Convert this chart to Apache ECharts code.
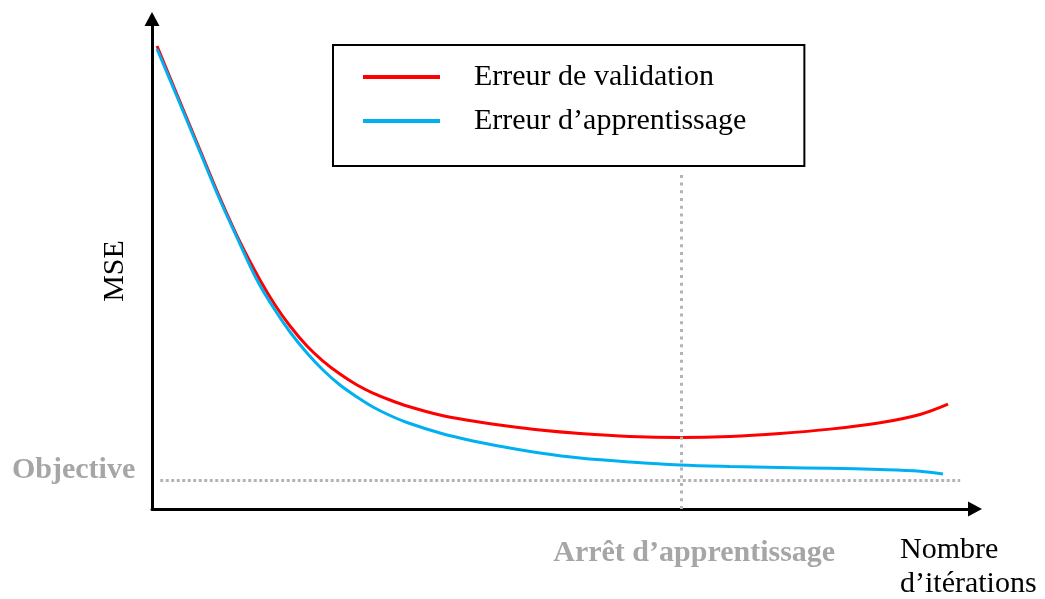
<!DOCTYPE html>
<html>
<head>
<meta charset="utf-8">
<script src="https://cdn.jsdelivr.net/npm/echarts@6/dist/echarts.min.js"></script>
<style>
  html, body { margin: 0; padding: 0; background: #fff; }
  #chart { width: 1045px; height: 599px; }
</style>
</head>
<body>
<div id="chart"></div>
<script>
// Validation error curve (iterations, MSE)
const valIter = [0.61, 3.16, 5.83, 8.26, 10.69, 13.12, 14.95, 16.77, 18.83, 20.78, 22.84, 24.91, 26.85, 28.92, 30.98, 34.99, 39.0, 43.13, 47.14, 52.0, 58.08, 64.16, 70.23, 76.31, 82.38, 88.46, 93.32, 96.72];
const valMse  = [94.49, 84.08, 73.27, 63.47, 54.49, 46.73, 41.63, 37.35, 33.27, 30.2, 27.55, 25.31, 23.67, 22.24, 21.02, 19.18, 17.96, 16.94, 16.12, 15.41, 14.8, 14.59, 14.8, 15.41, 16.3, 17.6, 19.3, 21.4];

// Training error curve (iterations, MSE)
const trainIter = [0.61, 3.16, 5.83, 8.26, 10.69, 12.76, 14.7, 16.77, 18.83, 20.78, 22.84, 24.91, 26.85, 28.92, 30.98, 34.99, 39.0, 43.13, 47.14, 52.0, 58.08, 64.16, 70.23, 76.31, 82.38, 88.46, 93.32, 96.11];
const trainMse  = [93.88, 83.67, 72.86, 63.06, 54.08, 46.73, 41.22, 36.12, 31.84, 28.37, 25.31, 22.86, 20.82, 19.08, 17.65, 15.51, 13.88, 12.55, 11.43, 10.41, 9.59, 8.98, 8.67, 8.47, 8.3, 8.05, 7.7, 7.14];

// Target MSE level and early-stopping point
const objectiveMse = 5.9;
const objectiveSpan = [1.0, 98.2];
const stopIter = 64.3;
const stopTop = 68.2;

const names = ['Erreur de validation', 'Erreur d\u2019apprentissage'];
const serif = 'Liberation Serif, Times New Roman, serif';
const grey = '#a6a6a6';

const pairs = (xs, ys) => xs.map((x, i) => [x, ys[i]]);

const chart = echarts.init(document.getElementById('chart'), null, { renderer: 'canvas' });

const axisBase = {
  type: 'value',
  min: 0,
  max: 100,
  splitLine: { show: false },
  axisTick: { show: false },
  axisLabel: { show: false },
  axisLine: {
    show: true,
    symbol: ['none', 'triangle'],
    symbolSize: [15, 14],
    lineStyle: { color: '#000', width: 3 }
  }
};

chart.setOption({
  animation: false,
  backgroundColor: '#fff',
  grid: { left: 152, right: 70, top: 19, bottom: 90, containLabel: false, outerBoundsMode: 'none' },
  xAxis: Object.assign({}, axisBase, {
    name: 'Nombre\nd\u2019it\u00e9rations',
    nameLocation: 'end',
    nameGap: -75,
    nameTextStyle: {
      fontFamily: serif, fontSize: 30, color: '#000',
      align: 'left', verticalAlign: 'top', lineHeight: 34,
      padding: [24, 0, 0, 0]
    }
  }),
  yAxis: Object.assign({}, axisBase, {
    name: 'MSE',
    nameLocation: 'middle',
    nameRotate: 90,
    nameGap: 22,
    nameTextStyle: {
      fontFamily: serif, fontSize: 30, color: '#000',
      padding: [0, 14, 0, 0]
    }
  }),
  legend: {
    data: names,
    orient: 'vertical',
    left: 333,
    top: 45,
    padding: [10, 58, 23, 30],
    itemGap: 0,
    itemWidth: 77,
    itemHeight: 4,
    icon: 'rect',
    borderColor: '#000',
    borderWidth: 2,
    textStyle: {
      fontFamily: serif, fontSize: 30, color: '#000',
      lineHeight: 44, padding: [0, 0, 0, 29]
    }
  },
  series: [
    {
      name: names[0],
      type: 'line',
      data: pairs(valIter, valMse),
      smooth: 0.35,
      showSymbol: false,
      color: '#ff0000',
      lineStyle: { color: '#ff0000', width: 3 },
      z: 3
    },
    {
      name: names[1],
      type: 'line',
      data: pairs(trainIter, trainMse),
      smooth: 0.35,
      showSymbol: false,
      color: '#00b0f0',
      lineStyle: { color: '#00b0f0', width: 3 },
      z: 4
    },
    {
      name: 'rep\u00e8res',
      type: 'line',
      data: [],
      silent: true,
      markLine: {
        silent: true,
        symbol: ['none', 'none'],
        animation: false,
        data: [
          [
            {
              coord: [objectiveSpan[0], objectiveMse],
              lineStyle: { color: '#b4b4b4', width: 3, type: [3, 2.5] },
              label: {
                show: true, position: 'start', formatter: 'Objective',
                distance: 25, fontFamily: serif, fontSize: 30, fontWeight: 'bold',
                color: grey, offset: [0, -10]
              }
            },
            { coord: [objectiveSpan[1], objectiveMse] }
          ],
          [
            {
              coord: [stopIter, 0],
              lineStyle: { color: '#b4b4b4', width: 3, type: [3, 4.7] },
              label: {
                show: true, position: 'start', formatter: 'Arr\u00eat d\u2019apprentissage',
                distance: 29, fontFamily: serif, fontSize: 30, fontWeight: 'bold',
                color: grey, padding: [0, 0, 0, 26]
              }
            },
            { coord: [stopIter, stopTop] }
          ]
        ]
      },
      z: 2
    }
  ]
});
</script>
</body>
</html>
